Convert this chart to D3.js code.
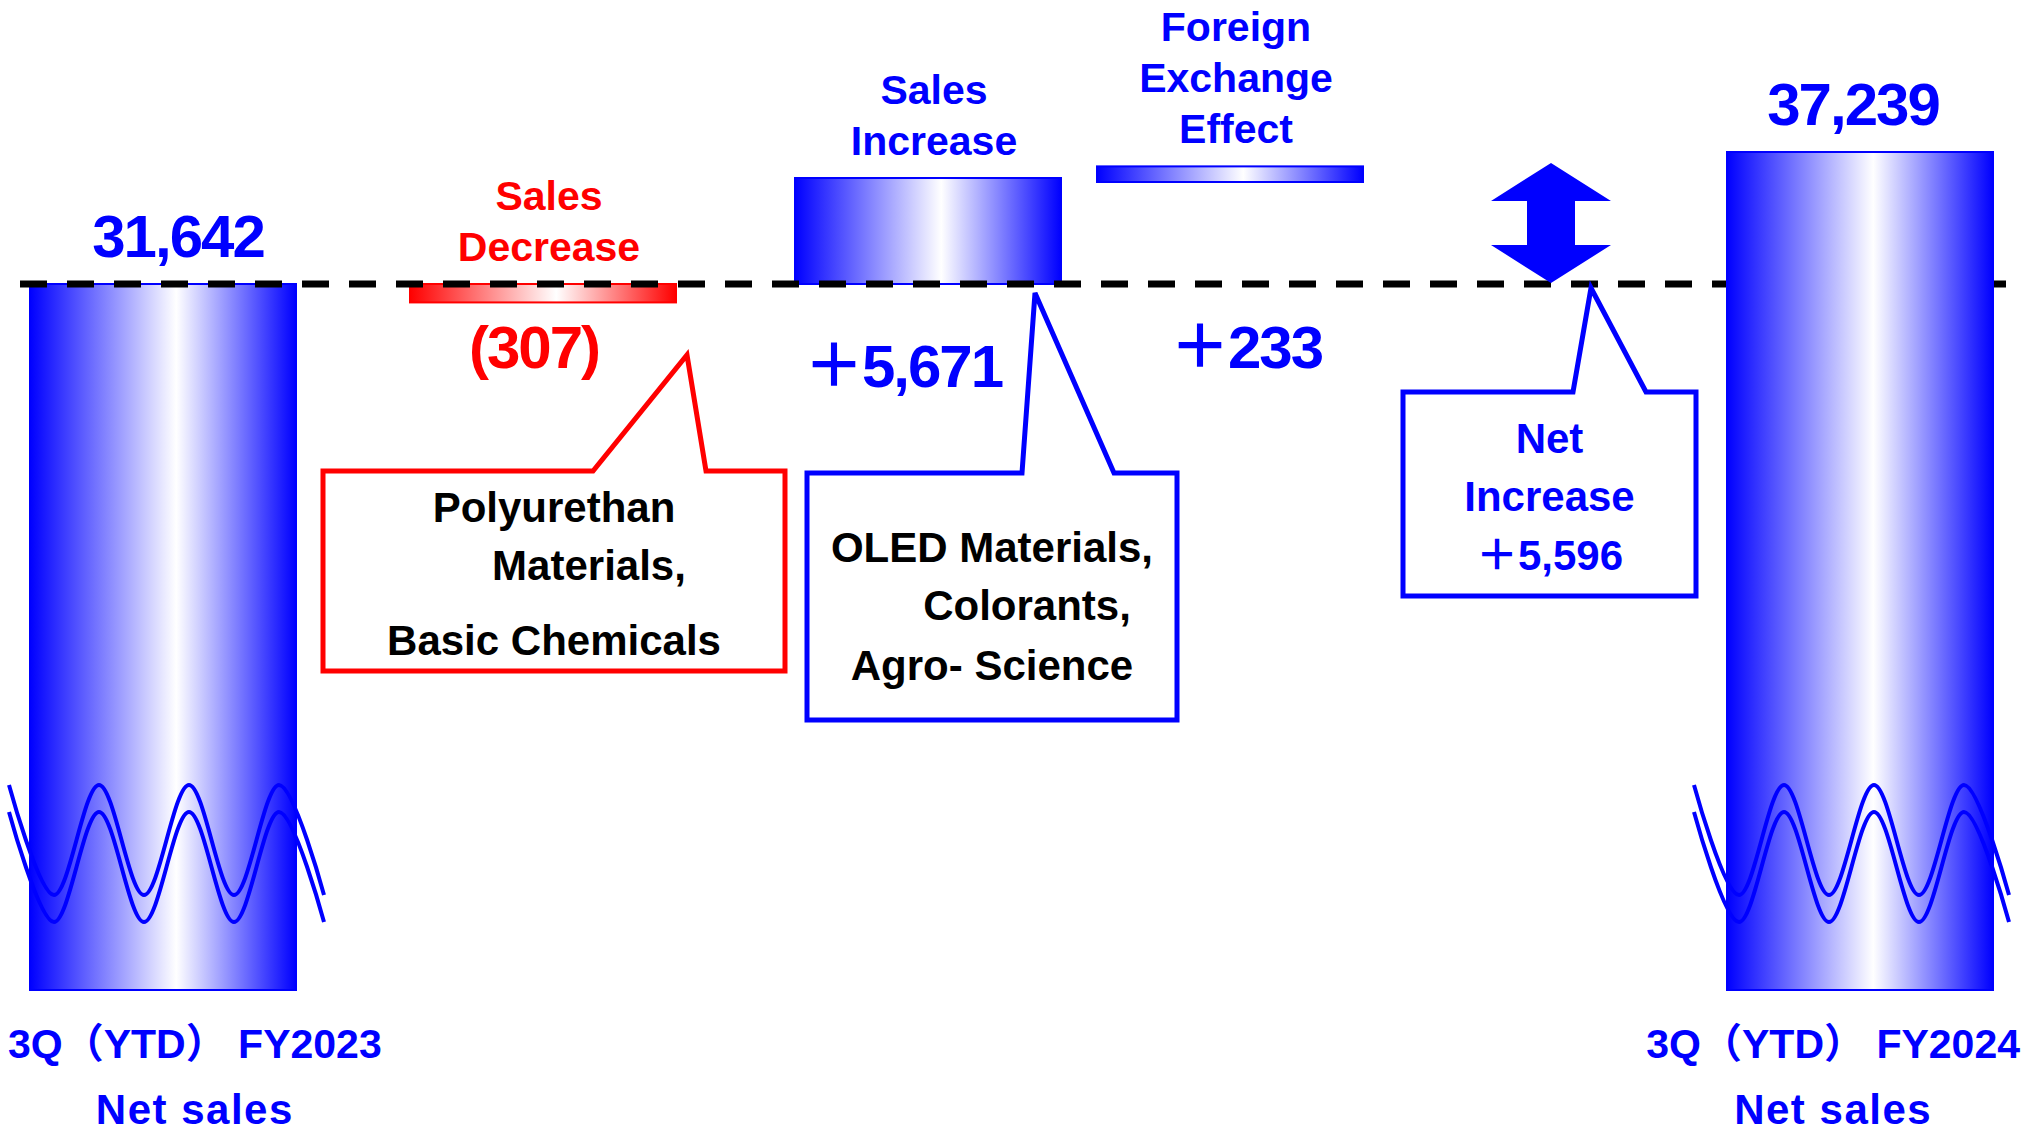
<!DOCTYPE html>
<html>
<head>
<meta charset="utf-8">
<script src="https://cdn.jsdelivr.net/npm/d3@7"></script>
<style>
  body { margin: 0; background: #fff; }
  text { font-family: "Liberation Sans", Arial, "Noto Sans CJK JP", sans-serif; font-weight: bold; }
</style>
</head>
<body>
<script>
// bridge steps, left to right
var steps = ["fy2023", "decrease", "increase", "fx", "net", "fy2024"];
var kinds = ["total", "down", "up", "up", "net", "total"];
var values = [31642, -307, 5671, 233, 5596, 37239];
var titles = [
  ["3Q（YTD） FY2023", "Net sales"],
  ["Sales", "Decrease"],
  ["Sales", "Increase"],
  ["Foreign", "Exchange", "Effect"],
  ["Net", "Increase"],
  ["3Q（YTD） FY2024", "Net sales"]
];
// text in the speech boxes (leading spaces kept as in the slide)
var notesDecrease = ["Polyurethan", "\u00a0\u00a0\u00a0\u00a0\u00a0\u00a0Materials,", "Basic Chemicals"];
var notesIncrease = ["OLED Materials,", "\u00a0\u00a0\u00a0\u00a0\u00a0\u00a0Colorants,", "Agro- Science"];

var width = 2024, height = 1132;
var blue = "#0000ff", red = "#ff0000";
// nudges of the value labels from their bar centre, as placed on the slide
var valueNudge = [[15, 0], [-9, -4], [-25, 15], [16, -4], [0, 0], [-7, 0]];

var svg = d3.select("body").append("svg").attr("width", width).attr("height", height);
var defs = svg.append("defs");

function grad(id, c) {
  var g = defs.append("linearGradient").attr("id", id)
    .attr("x1", "0%").attr("x2", "100%").attr("y1", "0%").attr("y2", "0%");
  g.append("stop").attr("offset", "0%").attr("stop-color", c);
  g.append("stop").attr("offset", "55%").attr("stop-color", "#fff");
  g.append("stop").attr("offset", "100%").attr("stop-color", c);
}
grad("gBlue", blue);
grad("gRed", red);

//scales
var x = d3.scaleOrdinal().domain(steps).range([163, 543, 928, 1230, 1551, 1860]);
var barW = 266;
var y = d3.scaleLinear().domain([values[0], values[5]]).range([284, 152]);
var deltas = values.filter(function(v, i) { return kinds[i] == "up" || kinds[i] == "down"; });
var dh = d3.scalePow().exponent(0.6)
  .domain([0, d3.max(deltas, function(v) { return Math.abs(v); })]).range([0, 106]);
var breakY = 990; // bottom of the cut total bars
var base = y(values[0]);

var fmt = d3.format(",");
function label(v, i) {
  if (kinds[i] == "total") return fmt(v);
  if (v < 0) return "(" + fmt(-v) + ")";
  return "＋" + fmt(v);
}

// bar geometry
var cursor = base;
var bars = steps.map(function(s, i) {
  var v = values[i], b = { step: s, i: i, kind: kinds[i] };
  if (kinds[i] == "total") { b.top = y(v); b.bottom = breakY; }
  else if (kinds[i] == "down") { b.top = base; b.bottom = base + dh(-v); }
  else if (kinds[i] == "up") {
    // later steps sit slightly into the one before, as on the slide
    b.bottom = cursor + (cursor < base ? 4 : 0); b.top = b.bottom - dh(v); cursor = b.top;
  }
  return b;
}).filter(function(b) { return b.kind != "net"; });

function drawBar(sel) {
  sel.append("rect")
    .attr("x", function(d) { return x(d.step) - barW / 2; })
    .attr("y", function(d) { return d.top; })
    .attr("width", barW)
    .attr("height", function(d) { return d.bottom - d.top; })
    .attr("fill", function(d) { return d.kind == "down" ? "url(#gRed)" : "url(#gBlue)"; })
    .attr("stroke", function(d) { return d.kind == "down" ? red : blue; })
    .attr("stroke-width", 2);
}

svg.append("g").selectAll("g").data(bars.filter(function(b) { return b.step != "fy2024"; }))
  .enter().append("g").call(drawBar);

// dashed reference at the starting level
svg.append("line")
  .attr("x1", 20).attr("x2", 2006)
  .attr("y1", base).attr("y2", base)
  .attr("stroke", "#000").attr("stroke-width", 7)
  .attr("stroke-dasharray", "27,20");

svg.append("g").selectAll("g").data(bars.filter(function(b) { return b.step == "fy2024"; }))
  .enter().append("g").call(drawBar);

// break marks on the total bars
var wave = d3.line().curve(d3.curveCardinal.tension(0));
bars.filter(function(b) { return b.kind == "total"; }).forEach(function(b) {
  var cx = x(b.step) + (b.i == 0 ? 4 : -8);
  [0, 27].forEach(function(off) {
    var pts = d3.range(8).map(function(k) {
      return [cx - 158 + k * 45, (k % 2 ? breakY - 95 : breakY - 205) + off];
    });
    svg.append("path").attr("d", wave(pts))
      .attr("fill", "none").attr("stroke", blue).attr("stroke-width", 4);
  });
});

// double arrow for the net change
var ax = x("net"), aTop = y(values[5]) + 11, aBot = base - 1, hh = 38;
var arrowPts = [[ax, aTop], [ax + 60, aTop + hh], [ax + 24, aTop + hh], [ax + 24, aBot - hh], [ax + 60, aBot - hh],
  [ax, aBot], [ax - 60, aBot - hh], [ax - 24, aBot - hh], [ax - 24, aTop + hh], [ax - 60, aTop + hh]];
svg.append("path").attr("d", d3.line()(arrowPts) + "Z").attr("fill", blue);

// speech boxes, offsets from the step centre and the base line
var callouts = [
  { step: "decrease", color: red, fill: "#000", lines: notesDecrease, rows: [51, 109, 184],
    x0: -220, x1: 242, y0: 187, y1: 387, b0: 50, b1: 163, tx: 144, ty: 71 },
  { step: "increase", color: blue, fill: "#000", lines: notesIncrease, rows: [89, 147, 207],
    x0: -121, x1: 249, y0: 189, y1: 436, b0: 94, b1: 186, tx: 107, ty: 9 },
  { step: "net", color: blue, fill: blue, lines: titles[4].concat([label(values[4], 4)]), rows: [61, 119, 178],
    x0: -148, x1: 145, y0: 108, y1: 312, b0: 22, b1: 95, tx: 40, ty: 4 }
];
callouts.forEach(function(c) {
  var cx = x(c.step);
  var X0 = cx + c.x0, X1 = cx + c.x1, Y0 = base + c.y0, Y1 = base + c.y1;
  var p = [[X0, Y0], [cx + c.b0, Y0], [cx + c.tx, base + c.ty], [cx + c.b1, Y0], [X1, Y0], [X1, Y1], [X0, Y1]];
  svg.append("path").attr("d", d3.line()(p) + "Z")
    .attr("fill", "#fff").attr("stroke", c.color).attr("stroke-width", 5);
  svg.append("g").selectAll("text").data(c.lines).enter().append("text")
    .attr("x", (X0 + X1) / 2)
    .attr("y", function(d, i) { return Y0 + c.rows[i]; })
    .attr("text-anchor", "middle")
    .style("white-space", "pre")
    .attr("font-size", 42)
    .attr("fill", c.fill)
    .text(function(d) { return d; });
});

// titles above the step bars
bars.filter(function(b) { return b.kind != "total"; }).forEach(function(b) {
  var t = titles[b.i], n = t.length;
  svg.append("g").selectAll("text").data(t).enter().append("text")
    .attr("x", x(b.step) + 6)
    .attr("y", function(d, i) { return b.top - 23 - (n - 1 - i) * 51; })
    .attr("text-anchor", "middle")
    .attr("font-size", 41)
    .attr("fill", b.kind == "down" ? red : blue)
    .text(function(d) { return d; });
});

// value labels
bars.forEach(function(b) {
  var nd = valueNudge[b.i];
  svg.append("text")
    .attr("x", x(b.step) + nd[0])
    .attr("y", (b.kind == "total" ? b.top - 27 : base + 88) + nd[1])
    .attr("text-anchor", "middle")
    .attr("font-size", 60)
    .attr("letter-spacing", -2)
    .attr("fill", b.kind == "down" ? red : blue)
    .text(label(values[b.i], b.i));
});

// category labels under the totals, kept inside the page
bars.filter(function(b) { return b.kind == "total"; }).forEach(function(b) {
  var g = svg.append("g");
  var texts = titles[b.i].map(function(line, i) {
    return g.append("text")
      .attr("y", breakY + 68 + i * 66)
      .attr("text-anchor", "middle")
      .attr("font-size", i ? 42 : 41)
      .attr("letter-spacing", i ? 1.5 : 0)
      .attr("fill", blue)
      .text(line);
  });
  var w = d3.max(texts, function(t) { return t.node().getComputedTextLength(); });
  var cx = Math.max(8 + w / 2, Math.min(width - 4 - w / 2, x(b.step)));
  texts.forEach(function(t) { t.attr("x", cx); });
});
</script>
</body>
</html>
